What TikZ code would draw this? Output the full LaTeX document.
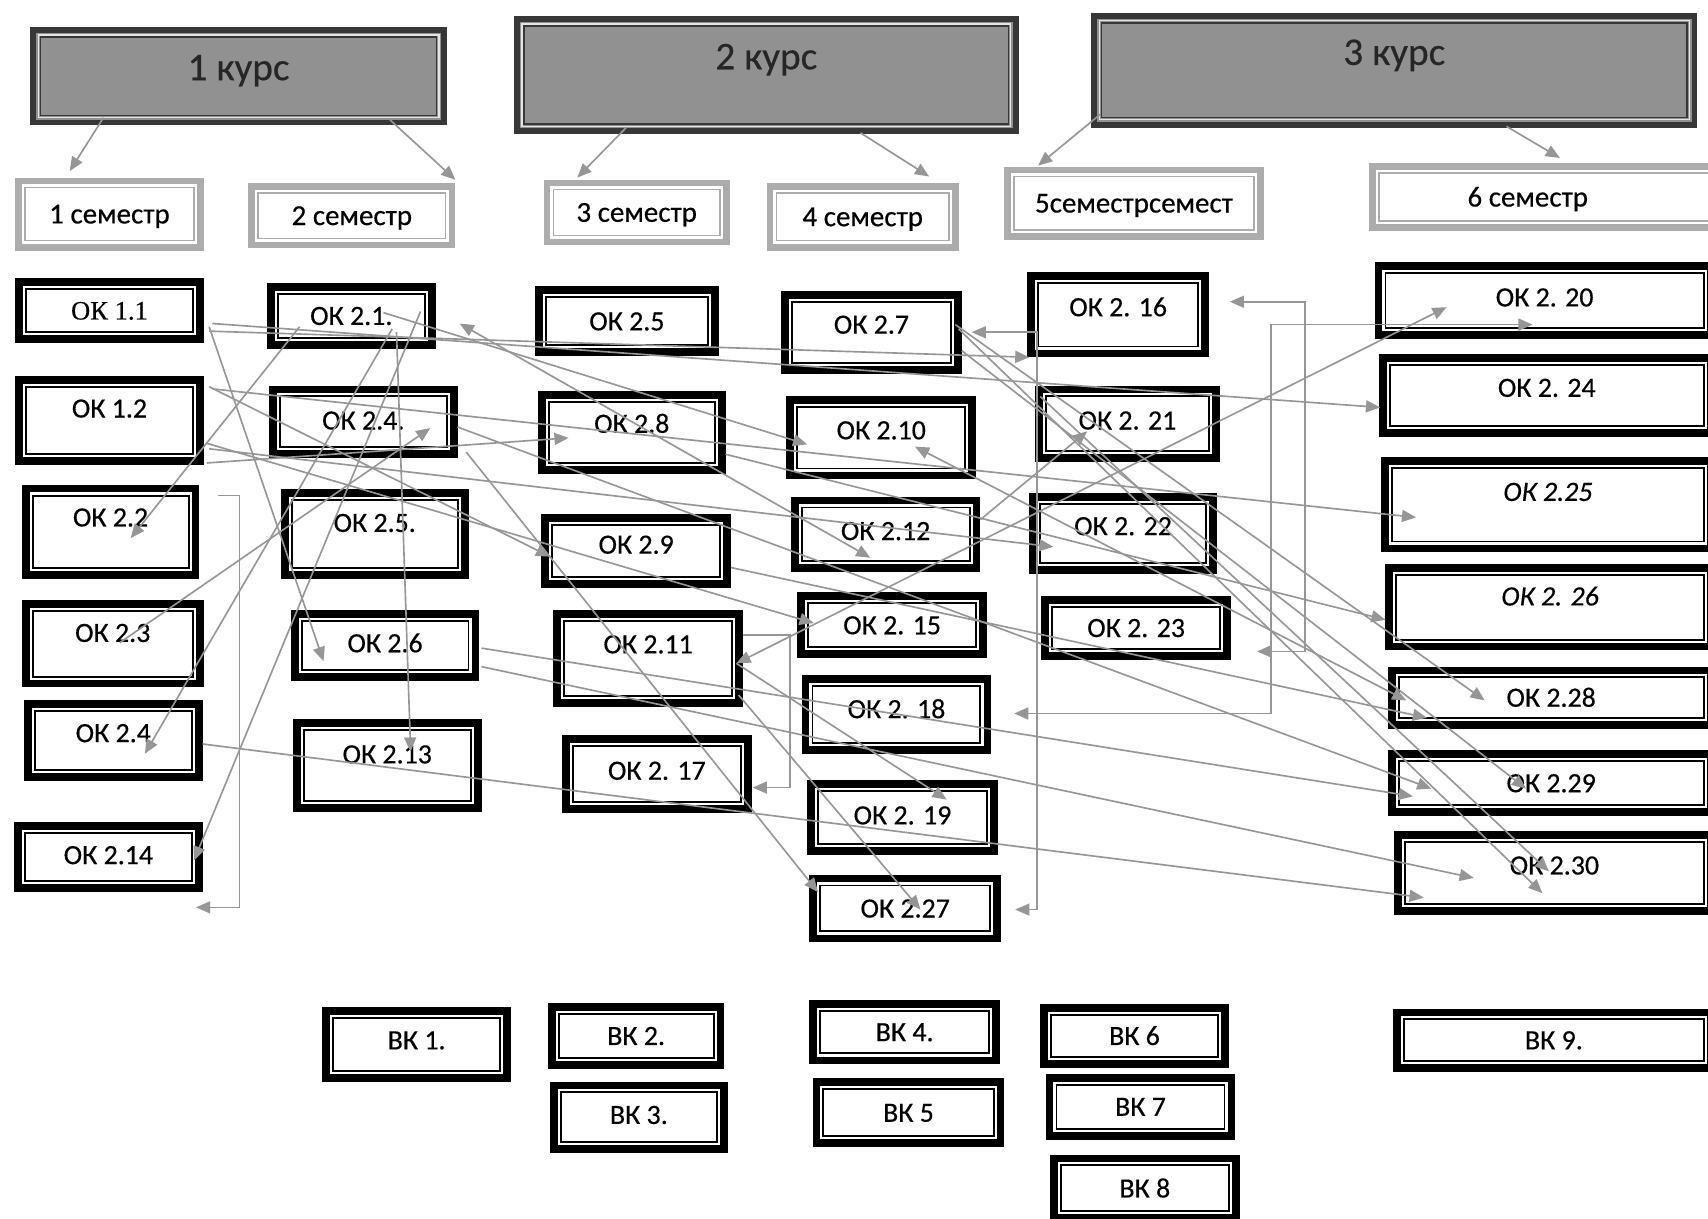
\documentclass[tikz,border=0pt]{standalone}
\usepackage{fontspec}
\setmainfont{Carlito}[FakeBold=0.4]
\newfontfamily\timesf{Liberation Serif}[FakeBold=0.4]
\usetikzlibrary{arrows.meta}
\definecolor{lg}{RGB}{150,150,150}
\definecolor{hdfill}{RGB}{145,145,145}
\definecolor{hddark}{RGB}{55,55,55}
\definecolor{smgray}{RGB}{172,172,172}
\tikzset{
  bx/.style 2 args={minimum width={(#1-7)*0.5pt}, minimum height={(#2-7)*0.5pt}},
  bxk/.style 2 args={minimum width={(#1-5)*0.5pt}, minimum height={(#2-5)*0.5pt}},
  bxs/.style 2 args={minimum width={(#1-6)*0.5pt}, minimum height={(#2-6)*0.5pt}},
  tu/.style={text depth=#1pt},
  okbox/.style={draw=black, line width=3.6pt, fill=white, inner sep=0pt,
    font=\fontsize{12.8}{14}\selectfont, text height=8.3pt, text depth=0pt,
    path picture={\draw[black, line width=0.9pt]
      ([shift={(3.2pt,3.2pt)}]path picture bounding box.south west) rectangle
      ([shift={(-3.2pt,-3.2pt)}]path picture bounding box.north east);}},
  kbox/.style={draw=hddark, line width=2.6pt, fill=hdfill, inner sep=0pt,
    font=\fontsize{18}{20}\selectfont, text height=11.6pt, text=black!85,
    path picture={\draw[white!80!gray, line width=0.6pt]
      ([shift={(2.3pt,2.3pt)}]path picture bounding box.south west) rectangle
      ([shift={(-2.3pt,-2.3pt)}]path picture bounding box.north east);
      \draw[hddark, line width=0.7pt]
      ([shift={(3.3pt,3.3pt)}]path picture bounding box.south west) rectangle
      ([shift={(-3.3pt,-3.3pt)}]path picture bounding box.north east);}},
  sbox/.style={draw=smgray, line width=3pt, fill=white, inner sep=0pt,
    font=\fontsize{13.3}{15}\selectfont, text height=8.6pt, text depth=0pt,
    path picture={\draw[smgray, line width=0.7pt]
      ([shift={(3pt,3pt)}]path picture bounding box.south west) rectangle
      ([shift={(-3pt,-3pt)}]path picture bounding box.north east);}},
  conn/.style={draw=lg, line width=0.75pt, -{Triangle[length=6.5pt,width=5.5pt]}},
  conn2/.style={draw=lg, line width=0.75pt, {Triangle[length=6.5pt,width=5.5pt]}-{Triangle[length=6.5pt,width=5.5pt]}},
}
\begin{document}
\begin{tikzpicture}[x=0.5pt,y=-0.5pt]
\path[use as bounding box] (0,0) rectangle (1568,1119);
\fill[white] (0,0) rectangle (1568,1119);
\clip (0,0) rectangle (1568,1119);

% course headers
\node[kbox, bxk={382}{90}, tu=8] (k1) at (219,70) {1 курс};
\node[kbox, bxk={463}{108}, tu=17] (k2) at (703.5,69) {2 курс};
\node[kbox, bxk={556}{105}, tu=16.5] (k3) at (1280,64.5) {3 курс};

% semesters
\node[sbox, bxs={173}{67}] (s1) at (100.5,196.5) {1 семестр};
\node[sbox, bxs={190}{60}] (s2) at (323,198) {2 семестр};
\node[sbox, bxs={171}{60}] (s3) at (584.5,195) {3 семестр};
\node[sbox, bxs={176}{62}] (s4) at (792,199) {4 семестр};
\node[sbox, bxs={238}{67}] (s5) at (1041,186.5) {5семестрсемест};
\node[sbox, bxs={323}{62}] (s6) at (1418.5,181) {\hspace*{-16pt}6 семестр};

% column 1
\node[okbox, bx={173}{60}, font=\timesf\fontsize{12.2}{14}\selectfont] (ok11) at (100.5,285) {ОК 1.1};
\node[okbox, bx={173}{82}, tu=11] (ok12) at (100.5,386) {ОК 1.2};
\node[okbox, bx={163}{86}, tu=13] (ok22) at (101.5,488) {ОК 2.2};
\node[okbox, bx={167}{80}, tu=10] (ok23) at (103.5,591) {ОК 2.3};
\node[okbox, bx={164}{74}, tu=7] (ok24a) at (104,680) {ОК 2.4};
\node[okbox, bx={173}{64}, tu=2] (ok214) at (99.5,787) {ОК 2.14};
% column 2
\node[okbox, bx={155}{60}] (ok21) at (322.5,290) {ОК 2.1.};
\node[okbox, bx={173}{66}, tu=1] (ok24b) at (333.5,387) {ОК 2.4.};
\node[okbox, bx={172}{82}, tu=10] (ok25b) at (344,490) {ОК 2.5.};
\node[okbox, bx={173}{65}, tu=2] (ok26) at (353.5,592.5) {ОК 2.6};
\node[okbox, bx={173}{85}, tu=10] (ok213) at (355.5,702.5) {ОК 2.13};
% column 3
\node[okbox, bx={169}{64}] (ok25) at (575.5,295) {ОК 2.5};
\node[okbox, bx={172}{76}, tu=8] (ok28) at (580,397) {ОК 2.8};
\node[okbox, bx={174}{68}, tu=6] (ok29) at (584,506) {ОК 2.9};
\node[okbox, bx={174}{89}, tu=13] (ok211) at (595,604.5) {ОК 2.11};
\node[okbox, bx={174}{71}, tu=3] (ok217) at (603,710.5) {ОК 2. 17};
% column 4
\node[okbox, bx={166}{76}, tu=7] (ok27) at (800,305) {ОК 2.7};
\node[okbox, bx={174}{76}, tu=7] (ok210) at (809,402) {ОК 2.10};
\node[okbox, bx={174}{69}, tu=3] (ok212) at (813,490.5) {ОК 2.12};
\node[okbox, bx={174}{60}] (ok215) at (819,574) {ОК 2. 15};
\node[okbox, bx={174}{72}, tu=5] (ok218) at (823,656) {ОК 2. 18};
\node[okbox, bx={175}{69}, tu=2] (ok219) at (828.5,750.5) {ОК 2. 19};
\node[okbox, bx={176}{62}] (ok227) at (831,834) {ОК 2.27};
% column 5
\node[okbox, bx={167}{78}, tu=7] (ok216) at (1026.5,289) {ОК 2. 16};
\node[okbox, bx={170}{70}, tu=3] (ok221) at (1035,389) {ОК 2. 21};
\node[okbox, bx={172}{74}, tu=7] (ok222) at (1031,490) {ОК 2. 22};
\node[okbox, bx={174}{59}] (ok223) at (1043,576.5) {ОК 2. 23};
% column 6
\node[okbox, bx={312}{70}, tu=3] (ok220) at (1418,276) {ОК 2. 20};
\node[okbox, bx={308}{76}, tu=7] (ok224) at (1420,363) {ОК 2. 24};
\node[okbox, bx={306}{87}, tu=12] (ok225) at (1421,463.5) {\itshape ОК 2.25};
\node[okbox, bx={302}{79}, tu=10] (ok226) at (1423,557.5) {\itshape ОК 2. 26};
\node[okbox, bx={300}{57}] (ok228) at (1424,640.5) {ОК 2.28};
\node[okbox, bx={300}{60}] (ok229) at (1424,719) {ОК 2.29};
\node[okbox, bx={294}{77}, tu=7] (ok230) at (1427,801.5) {ОК 2.30};

% elective
\node[okbox, bx={173}{68}, tu=4] (vk1) at (382.5,959) {ВК 1.};
\node[okbox, bx={162}{60}] (vk2) at (584,951) {ВК 2.};
\node[okbox, bx={163}{65}, tu=2] (vk3) at (586.5,1025.5) {ВК 3.};
\node[okbox, bx={175}{59}] (vk4) at (830.5,947.5) {ВК 4.};
\node[okbox, bx={176}{63}] (vk5) at (834,1021.5) {ВК 5};
\node[okbox, bx={173}{58}] (vk6) at (1041.5,951) {ВК 6};
\node[okbox, bx={174}{60}] (vk7) at (1047,1016) {ВК 7};
\node[okbox, bx={174}{62}] (vk8) at (1051,1091) {ВК 8};
\node[okbox, bx={295}{58}] (vk9) at (1426.5,955) {ВК 9.};

% header arrows
\draw[conn] ([shift={(-124,38)}]k1.center) -- ([shift={(-36.5,-39.5)}]s1.center);
\draw[conn] ([shift={(139,40)}]k1.center) -- ([shift={(95,-33)}]s2.center);
\draw[conn] ([shift={(-128.5,48)}]k2.center) -- ([shift={(-54.5,-32)}]s3.center);
\draw[conn] ([shift={(86.5,53)}]k2.center) -- ([shift={(61,-37)}]s4.center);
\draw[conn] ([shift={(-270,40.5)}]k3.center) -- ([shift={(-88,-34.5)}]s5.center);
\draw[conn] ([shift={(103,51.5)}]k3.center) -- ([shift={(13.5,-36)}]s6.center);

% connectors
\draw[conn] ([shift={(91.5,15)}]ok11.center) -- ([shift={(-56.5,14.5)}]ok26.center);
\draw[conn] ([shift={(91.5,19)}]ok11.center) -- ([shift={(-81.5,39)}]ok216.center);
\draw[conn] ([shift={(94.5,12)}]ok11.center) -- ([shift={(-153,11)}]ok224.center);
\draw[conn] ([shift={(-47.5,10)}]ok21.center) -- ([shift={(18.5,6)}]ok22.center);
\draw[conn] ([shift={(37.5,12)}]ok21.center) -- ([shift={(29,12)}]ok24a.center);
\draw[conn] ([shift={(63.5,-4)}]ok21.center) -- ([shift={(78.5,3)}]ok214.center);
\draw[conn] ([shift={(41.5,15)}]ok21.center) -- ([shift={(21.5,-12.5)}]ok213.center);
\draw[conn] ([shift={(6.5,-1)}]ok23.center) -- ([shift={(61.5,6)}]ok24b.center);
\draw[conn] ([shift={(98.5,-33)}]ok22.center) -- ++(20,0) |- ([shift={(80.5,46)}]ok214.center);
\draw[conn] ([shift={(89.5,39)}]ok12.center) -- ([shift={(-58,5)}]ok28.center);
\draw[conn] ([shift={(94.5,-29)}]ok12.center) -- ([shift={(-121,11.5)}]ok225.center);
\draw[conn] ([shift={(91.5,-31)}]ok12.center) -- ([shift={(-79,5)}]ok29.center);
\draw[conn] ([shift={(89.5,21)}]ok12.center) -- ([shift={(-72,-2)}]ok215.center);
\draw[conn] ([shift={(91.5,26)}]ok12.center) -- ([shift={(-64,12)}]ok222.center);
\draw[conn] ([shift={(29.5,-3)}]ok21.center) -- ([shift={(-68,6)}]ok210.center);
\draw[conn2] ([shift={(99.5,7)}]ok21.center) -- ([shift={(-14,21.5)}]ok212.center);
\draw[conn] ([shift={(94.5,28)}]ok24b.center) -- ([shift={(-80,-15)}]ok227.center);
\draw[conn2] ([shift={(81,4.5)}]ok211.center) -- ([shift={(-90,6)}]ok220.center);
\draw[conn] ([shift={(87,-13.5)}]ok212.center) -- ([shift={(-37,7)}]ok221.center);
\draw[conn2] ([shift={(31,8)}]ok210.center) -- ([shift={(-133,2.5)}]ok228.center);
\draw[conn] ([shift={(77,-7)}]ok27.center) -- ([shift={(-61,2.5)}]ok228.center);
\draw[conn] ([shift={(80,-3)}]ok27.center) -- ([shift={(-11,18.5)}]ok230.center);
\draw[conn] ([shift={(83,17)}]ok27.center) -- ([shift={(-23,5)}]ok229.center);
\draw[conn] ([shift={(-80,-25)}]ok221.center) -- ([shift={(-5,-1.5)}]ok230.center);
\draw[conn] ([shift={(87,15)}]ok29.center) -- ([shift={(-114,18.5)}]ok228.center);
\draw[conn] ([shift={(86,20)}]ok28.center) -- ([shift={(-151,11.5)}]ok226.center);
\draw[conn] ([shift={(88.5,2.5)}]ok26.center) -- ([shift={(-127,12)}]ok229.center);
\draw[conn] ([shift={(88.5,19.5)}]ok26.center) -- ([shift={(-74,4.5)}]ok230.center);
\draw[conn] ([shift={(82,3)}]ok24a.center) -- ([shift={(-120,22.5)}]ok230.center);
\draw[conn] ([shift={(81,4.5)}]ok211.center) -- ([shift={(40.5,-16.5)}]ok219.center);
\draw[conn] ([shift={(83,33.5)}]ok211.center) -- ([shift={(14,1)}]ok227.center);
\draw[conn] ([shift={(86.5,5)}]ok24b.center) -- ([shift={(-110,5)}]ok229.center);
\draw[conn] ([shift={(87,-21.5)}]ok211.center) -- ++(43,0) |- ([shift={(88,12.5)}]ok217.center);
\draw[conn2] ([shift={(92,0)}]ok27.center) -- ++(60,0) |- ([shift={(101,1)}]ok227.center);
\draw[conn2] ([shift={(102.5,-12)}]ok216.center) -- ++(69,0) |- ([shift={(111,21.5)}]ok223.center);
\draw[conn2] ([shift={(-11,22)}]ok220.center) -- ++(-240,0) |- ([shift={(108,-1)}]ok218.center);
\end{tikzpicture}
\end{document}
